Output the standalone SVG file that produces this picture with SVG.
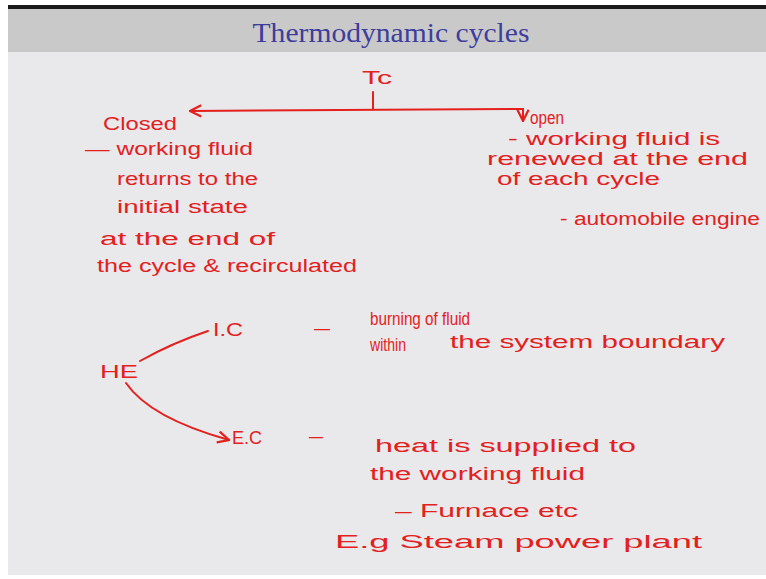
<svg xmlns="http://www.w3.org/2000/svg" width="766" height="579" viewBox="0 0 766 579">
<defs>
<style>
.hw{font-family:"Liberation Sans","DejaVu Sans",sans-serif;font-size:18px;fill:#e3201c;}
.ln{fill:none;stroke:#e3201c;stroke-width:2;stroke-linecap:round;}
.title{font-family:"Liberation Serif","DejaVu Serif",serif;font-size:27px;fill:#3d3d9c;}
</style>
<marker id="ah" viewBox="0 0 10 10" refX="9" refY="5" markerWidth="7" markerHeight="7" orient="auto-start-reverse">
<path d="M1,1 L9,5 L1,9" fill="none" stroke="#e3201c" stroke-width="1.6"/>
</marker>
</defs>
<rect x="0" y="0" width="766" height="579" fill="#ffffff"/>
<rect x="8" y="5" width="758" height="4" fill="#1a1a1a"/>
<rect x="8" y="9" width="758" height="43" fill="#c9c9c9"/>
<rect x="8" y="52" width="758" height="523" fill="#e9e9ec"/>
<text class="title" x="391" y="42" text-anchor="middle" textLength="277" lengthAdjust="spacingAndGlyphs">Thermodynamic cycles</text>

<g id="connectors">
<line class="ln" x1="373" y1="92" x2="373" y2="109"/>
<path class="ln" d="M519,109 L190,111" marker-end="url(#ah)"/>
<path class="ln" d="M519,109 L523,109 L523,121" marker-end="url(#ah)"/>
<path class="ln" d="M140,361 Q172,343 208,331"/>
<path class="ln" d="M126,383 Q150,418 229,440" marker-end="url(#ah)"/>
</g>

<g id="tc"><text class="hw" x="362" y="84" font-size="20" textLength="30" lengthAdjust="spacingAndGlyphs">Tc</text></g>

<g id="closed">
<text class="hw" x="103" y="130" textLength="74" lengthAdjust="spacingAndGlyphs">Closed</text>
<text class="hw" x="85" y="155" textLength="168" lengthAdjust="spacingAndGlyphs">— working fluid</text>
<text class="hw" x="117" y="185" textLength="141" lengthAdjust="spacingAndGlyphs">returns to the</text>
<text class="hw" x="117" y="213" textLength="131" lengthAdjust="spacingAndGlyphs">initial state</text>
<text class="hw" x="100" y="245" textLength="175" lengthAdjust="spacingAndGlyphs">at the end of</text>
<text class="hw" x="97" y="272" textLength="260" lengthAdjust="spacingAndGlyphs">the cycle &amp; recirculated</text>
</g>

<g id="open">
<text class="hw" x="530" y="124" textLength="34" lengthAdjust="spacingAndGlyphs">open</text>
<text class="hw" x="508" y="145" textLength="212" lengthAdjust="spacingAndGlyphs">- working fluid is</text>
<text class="hw" x="487" y="165" textLength="261" lengthAdjust="spacingAndGlyphs">renewed at the end</text>
<text class="hw" x="497" y="185" textLength="163" lengthAdjust="spacingAndGlyphs">of each cycle</text>
<text class="hw" x="560" y="225" textLength="200" lengthAdjust="spacingAndGlyphs">- automobile engine</text>
</g>

<g id="he"><text class="hw" x="100" y="378" font-size="20" textLength="38" lengthAdjust="spacingAndGlyphs">HE</text></g>

<g id="ic">
<text class="hw" x="213" y="336" textLength="30" lengthAdjust="spacingAndGlyphs">I.C</text>
<text class="hw" x="314" y="334" textLength="16" lengthAdjust="spacingAndGlyphs">–</text>
<text class="hw" x="370" y="325" textLength="100" lengthAdjust="spacingAndGlyphs">burning of fluid</text>
<text class="hw" x="370" y="351" font-size="15" textLength="36" lengthAdjust="spacingAndGlyphs">within</text>
<text class="hw" x="450" y="348" textLength="275" lengthAdjust="spacingAndGlyphs">the system boundary</text>
</g>

<g id="ec">
<text class="hw" x="232" y="444" textLength="30" lengthAdjust="spacingAndGlyphs">E.C</text>
<text class="hw" x="309" y="442" textLength="14" lengthAdjust="spacingAndGlyphs">–</text>
<text class="hw" x="375" y="452" textLength="261" lengthAdjust="spacingAndGlyphs">heat is supplied to</text>
<text class="hw" x="370" y="480" textLength="215" lengthAdjust="spacingAndGlyphs">the working fluid</text>
<text class="hw" x="395" y="517" textLength="183" lengthAdjust="spacingAndGlyphs">– Furnace etc</text>
<text class="hw" x="335" y="548" textLength="367" lengthAdjust="spacingAndGlyphs">E.g   Steam   power   plant</text>
</g>
</svg>
